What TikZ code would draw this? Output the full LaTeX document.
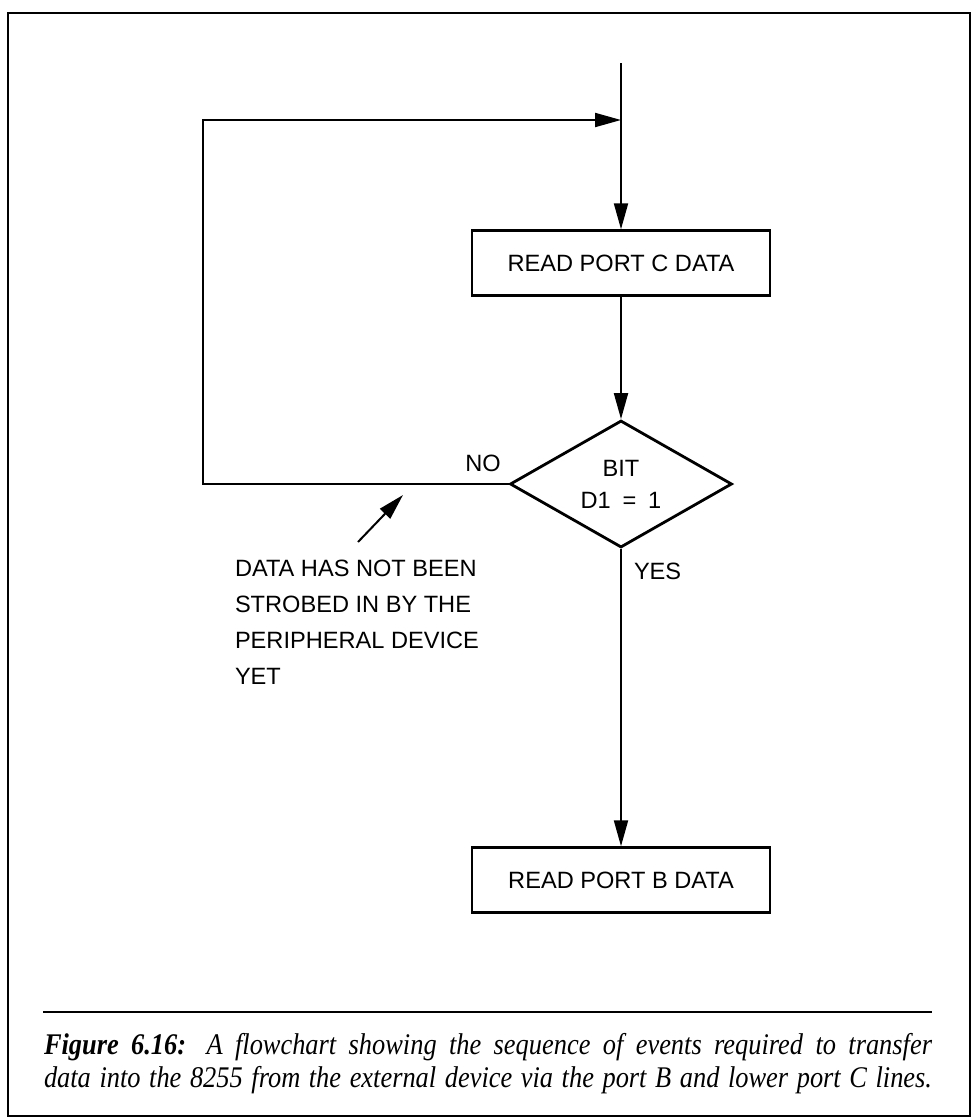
\documentclass[tikz,border=0pt]{standalone}
\usepackage{fontspec}
\setmainfont{Liberation Serif}
\newfontfamily\chartfont{Liberation Sans}
\newfontfamily\captfont[FakeStretch=0.88]{Liberation Serif}
\usetikzlibrary{arrows.meta,shapes.geometric}

\begin{document}
\begin{tikzpicture}[x=0.5pt,y=-0.5pt,line width=1pt,
    >={Triangle[length=13pt,width=7pt]},
    every node/.style={font=\chartfont\fontsize{11.8}{18}\selectfont},
    procbox/.style={draw,line width=1.2pt,minimum width=149pt,minimum height=32.5pt,inner sep=0pt},
    testbox/.style={draw,diamond,aspect=1.75,line width=1.4pt,minimum width=111pt,minimum height=63.5pt,
        inner sep=0pt,align=center,font=\chartfont\fontsize{11.8}{16}\selectfont},
    lbl/.style={inner sep=0pt}]
    % page and frame
    \useasboundingbox (0,0) rectangle (973,1119);
    \draw[line width=1.2pt] (8,13) rectangle (970,1116);

    % flowchart
    \coordinate (start) at (621,63);
    \coordinate (merge) at (621,120);
    \node[procbox] (readc) at (621,263) {READ PORT C DATA};
    \node[testbox] (bit) at (621,484) {BIT\\D1\enspace=\enspace1};
    \node[procbox] (readb) at (621,880) {READ PORT B DATA};
    \coordinate (loopbot) at (203,484);
    \coordinate (looptop) at (203,120);

    \draw[->] (start) -- (readc);
    \draw[->] (readc) -- (bit);
    \draw[->] (bit) -- (readb);
    \draw[->] (bit.west) -- (loopbot) -- (looptop) -- (merge);

    \node[lbl] (no) at (483,463) {NO};
    \node[lbl,anchor=west] (yes) at (633,571) {YES};

    % remark on the NO branch
    \node[lbl,anchor=north west,align=left] (note) at (234,559)
        {DATA HAS NOT BEEN\\STROBED IN BY THE\\PERIPHERAL DEVICE\\YET};
    \coordinate (tail) at (358,542);
    \coordinate (tip) at (403,495);
    \draw[->] (tail) -- (tip);

    % caption
    \coordinate (ruleL) at (43,1012);
    \coordinate (ruleR) at (932,1012);
    \draw[line width=1.2pt] (ruleL) -- (ruleR);
    \node[lbl,anchor=north west,align=left,
        font=\captfont\itshape\fontsize{15}{16.5}\selectfont] (caption) at (43,1032)
        {\makebox[444pt][s]{\textbf{Figure 6.16:} A flowchart showing the sequence of events required to transfer}\\
         \makebox[444pt][s]{data into the 8255 from the external device via the port B and lower port C lines.}};
\end{tikzpicture}
\end{document}
